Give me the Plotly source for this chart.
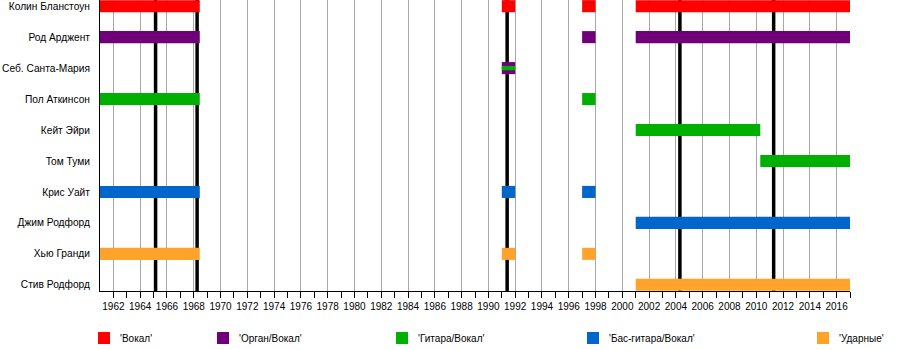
import plotly.graph_objects as go

members = ["Колин Бланстоун", "Род Арджент", "Себ. Санта-Мария", "Пол Аткинсон",
           "Кейт Эйри", "Том Туми", "Крис Уайт", "Джим Родфорд", "Хью Гранди", "Стив Родфорд"]

roles = ["'Вокал'", "'Орган/Вокал'", "'Гитара/Вокал'", "'Бас-гитара/Вокал'", "'Ударные'"]
role_colors = ["#ff0000", "#70007a", "#00b000", "#0066cc", "#ffa32a"]

# (member, role index, start, end)
periods = [
    ("Колин Бланстоун", 0, 1961.0, 1968.45),
    ("Колин Бланстоун", 0, 1991.0, 1992.0),
    ("Колин Бланстоун", 0, 1997.0, 1998.0),
    ("Колин Бланстоун", 0, 2001.0, 2017.0),
    ("Род Арджент", 1, 1961.0, 1968.45),
    ("Род Арджент", 1, 1997.0, 1998.0),
    ("Род Арджент", 1, 2001.0, 2017.0),
    ("Себ. Санта-Мария", 1, 1991.0, 1992.0),
    ("Пол Аткинсон", 2, 1961.0, 1968.45),
    ("Пол Аткинсон", 2, 1997.0, 1998.0),
    ("Кейт Эйри", 2, 2001.0, 2010.3),
    ("Том Туми", 2, 2010.3, 2017.0),
    ("Крис Уайт", 3, 1961.0, 1968.45),
    ("Крис Уайт", 3, 1991.0, 1992.0),
    ("Крис Уайт", 3, 1997.0, 1998.0),
    ("Джим Родфорд", 3, 2001.0, 2017.0),
    ("Хью Гранди", 4, 1961.0, 1968.45),
    ("Хью Гранди", 4, 1991.0, 1992.0),
    ("Хью Гранди", 4, 1997.0, 1998.0),
    ("Стив Родфорд", 4, 2001.0, 2017.0),
]

# secondary (thin) stripes inside a bar
stripes = [("Себ. Санта-Мария", 2, 1991.0, 1992.0)]

album_years = [1965.15, 1968.25, 1991.4, 2004.3, 2011.3]

x_start, x_end = 1961, 2017
tick_years = list(range(1962, 2017, 2))

fig = go.Figure()

for ri, col in enumerate(role_colors):
    sel = [p for p in periods if p[1] == ri]
    if not sel:
        continue
    fig.add_trace(go.Bar(
        orientation="h",
        y=[p[0] for p in sel],
        base=[p[2] for p in sel],
        x=[p[3] - p[2] for p in sel],
        width=0.39,
        marker=dict(color=col, line=dict(width=0)),
        showlegend=False,
        hoverinfo="skip",
    ))

for s in stripes:
    fig.add_trace(go.Bar(
        orientation="h",
        y=[s[0]], base=[s[2]], x=[s[3] - s[2]],
        width=0.14,
        marker=dict(color=role_colors[s[1]], line=dict(width=0)),
        showlegend=False, hoverinfo="skip",
    ))

for yr in album_years:
    fig.add_shape(type="line", x0=yr, x1=yr, xref="x", yref="paper", y0=0, y1=1,
                  line=dict(color="black", width=3.5), layer="between")

# legend
legend_x = [98, 217, 396, 587, 817]
W, H = 900, 350
for lx, name, col in zip(legend_x, roles, role_colors):
    fig.add_shape(type="rect", xref="paper", yref="paper",
                  x0=(lx - 100) / 750, x1=(lx + 12 - 100) / 750,
                  y0=(291 - 344) / 291, y1=(291 - 332) / 291,
                  fillcolor=col, line=dict(width=0))
    fig.add_annotation(xref="paper", yref="paper", x=(lx + 20 - 100) / 750,
                       y=(291 - 338) / 291, text=name, showarrow=False,
                       xanchor="left", yanchor="middle",
                       font=dict(size=10, color="black"))

fig.update_layout(
    width=W, height=H,
    margin=dict(l=100, r=50, t=0, b=59, autoexpand=False),
    plot_bgcolor="white", paper_bgcolor="white",
    barmode="overlay",
    font=dict(family="Liberation Sans, Arial, sans-serif", size=11, color="black"),
    showlegend=False,
    xaxis=dict(range=[x_start, x_end], tickvals=tick_years,
               ticktext=[str(y) for y in tick_years],
               showgrid=True, gridcolor="#a8a8a8", gridwidth=1,
               ticks="outside", ticklen=6, tickcolor="black", tickwidth=1,
               minor=dict(tickvals=list(range(1963, 2018, 2)), ticks="outside",
                          ticklen=6, tickcolor="black", showgrid=False),
               showline=True, linecolor="black", linewidth=1, automargin=False,
               tickfont=dict(size=10), zeroline=False, fixedrange=True),
    yaxis=dict(categoryorder="array", categoryarray=members[::-1],
               range=[-0.2, 9.2], showgrid=False, showline=True, automargin=False,
               linecolor="black", linewidth=1, ticks="", ticklabelstandoff=7,
               tickfont=dict(size=10.2), zeroline=False, fixedrange=True),
)

fig.write_html("out.html")
